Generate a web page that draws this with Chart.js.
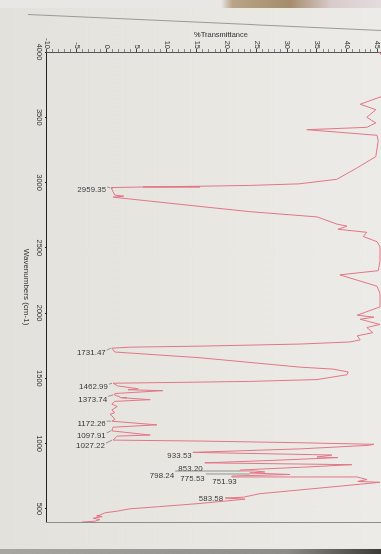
<!DOCTYPE html>
<html>
<head>
<meta charset="utf-8">
<script src="https://cdn.jsdelivr.net/npm/chart.js@4/dist/chart.umd.min.js"></script>
<style>
  html, body { margin:0; padding:0; width:381px; height:554px; overflow:hidden;
    background: linear-gradient(to right, #e3e1db 0%, #e8e7e2 55%, #ecebe7 100%); }
  #wrap { position:absolute; left:0; top:0; width:554px; height:400px;
    transform-origin:0 0; transform: translate(400px,0) rotate(90deg); }
  #c { display:block; width:554px; height:400px; }
  #topstrip { position:absolute; left:0; top:0; width:381px; height:8px;
    background: linear-gradient(to right, #e8e7e3 0%, #e8e7e3 58%, #b9a487 61%, #a48c6c 76%, #d9cbcb 87%, #e4dcdf 100%); }
  #fold { position:absolute; left:28px; top:14px; width:354px; height:1px; background:#9a9a98;
    transform-origin:0 0; transform: rotate(2.6deg); }
  #bottomstrip { position:absolute; left:0; top:549px; width:381px; height:5px;
    background: linear-gradient(to right, #a8a6a1 0%, #8e8c88 75%, #3c3a36 100%); }
</style>
</head>
<body>
<div id="topstrip"></div>
<div id="fold"></div>
<div id="wrap"><canvas id="c" width="554" height="400"></canvas></div>
<div id="bottomstrip"></div>
<script>
// ---- data (wavenumber in cm-1, %Transmittance) ----
const wavenumbers = [4000,3950,3850,3750,3680,3658,3600,3558,3500,3457,3423,3405,3362,3319,3199,3113,3025,2990,2978,2972,2966,2962,2959.35,2904,2896,2888,2833,2777,2737,2682,2666,2642,2619,2587,2547,2508,2400,2325,2293,2269,2206,2151,2048,1984,1969,1953,1913,1890,1850,1826,1795,1779,1763,1747,1739,1731.47,1702,1658,1586,1571,1549,1528,1491,1477,1470,1462.99,1442,1427,1420,1413,1406,1384,1373.74,1357,1354,1350,1337,1324,1304,1284,1258,1238,1225,1205,1185,1172.26,1144,1126,1097.91,1066,1058,1027.22,1020,1007,995,987,960,933.53,916,913,898,893,871,853.2,839,819,798.24,791,783,775.53,764,751.93,745,725,711,704,658,617,590,583.58,575,542,518,501,483,471,453,447,441,429,418,406,400];
const transmittance = [45.3,46.2,46.8,46.9,46.3,45.7,42.2,44.8,43.3,44.8,43.3,33.3,45.0,45.2,44.8,41.7,38.3,32.0,23.8,15.5,6.0,1.0,0.7,1.3,2.8,1.0,12.2,23.8,35.0,38.3,40.0,38.5,43.3,42.7,45.0,45.5,45.5,45.2,38.8,40.5,45.0,45.5,45.5,41.7,44.5,42.2,45.5,43.3,44.3,41.7,42.2,40.5,32.2,15.5,3.8,0.8,1.3,15.5,32.2,37.7,40.2,40.0,35.0,23.8,13.0,1.0,1.8,4.2,5.2,3.5,9.3,1.3,1.2,2.2,3.3,2.5,7.2,1.3,0.8,1.7,0.8,1.3,0.5,1.0,1.3,0.8,8.3,1.0,0.8,7.2,1.7,1.0,15.5,32.2,44.5,43.5,32.2,14.3,34.3,37.5,35.0,38.5,27.2,16.3,40.8,32.2,22.2,24.7,26.3,23.8,30.5,20.8,41.7,43.3,41.8,45.5,35.0,25.5,22.7,19.7,23.0,15.5,8.8,3.8,1.7,-0.3,-1.2,-1.7,-0.8,-2.3,-1.2,-2.0,-4.2];
const wavenumberTicks = [4000,3500,3000,2500,2000,1500,1000,500];
const transmittanceTicks = [-10,-5,0,5,10,15,20,25,30,35,40,45];
const peakLabels = ['2959.35','1731.47','1462.99','1373.74','1172.26','1097.91','1027.22','933.53','853.20','798.24','775.53','751.93','583.58'];

// ---- label placement (style, in the photographed frame: dx right, dy down) ----
const labelPlacement = [
  [-5,2,'s'],[-6,5,'s'],[-5,4,'s'],[-7,4.5,'s'],[-6,3,'s'],[-6,5,'s'],[-8,6,'s'],
  [-1,3.5,''],[-2,6,''],[-66,6,'l'],[-45,6,'l'],[5,6,''],[-2,0.5,'']
];

const FONT = '"Liberation Sans", Arial, sans-serif';

const peakLabelPlugin = {
  id: 'peakLabels',
  afterDatasetsDraw(chart) {
    const { ctx, scales: { x, y } } = chart;
    ctx.save();
    ctx.font = '8px ' + FONT;
    ctx.fillStyle = '#3a3a3a';
    ctx.strokeStyle = '#7c7c7c';
    ctx.lineWidth = 0.8;
    peakLabels.forEach((lab, i) => {
      const w = parseFloat(lab);
      const idx = wavenumbers.indexOf(w);
      const px = x.getPixelForValue(w);
      const py = y.getPixelForValue(transmittance[idx]);
      const [fdx, fdy, leader] = labelPlacement[i];
      const cv = (dx, dy) => [px + dy, py - dx];
      const [tx, ty] = cv(fdx, fdy);
      ctx.save();
      ctx.translate(tx, ty);
      ctx.rotate(-Math.PI / 2);
      ctx.textAlign = 'right';
      ctx.textBaseline = 'middle';
      ctx.fillText(lab, 0, 0);
      ctx.restore();
      let a = null, b = null;
      if (leader === 's') { a = cv(fdx + 1, fdy - 3); b = cv(-1, 0); }
      if (leader === 'l') { a = cv(fdx + 1, fdy - 5); b = cv(0, fdy - 5); }
      if (a) {
        ctx.beginPath();
        ctx.moveTo(a[0], a[1]);
        ctx.lineTo(b[0], b[1]);
        ctx.stroke();
      }
    });
    ctx.restore();
  }
};

new Chart(document.getElementById('c'), {
  type: 'line',
  data: {
    datasets: [{
      data: wavenumbers.map((w, i) => ({ x: w, y: transmittance[i] })),
      borderColor: 'rgb(226,118,134)',
      borderWidth: 1,
      pointRadius: 0,
      tension: 0,
      fill: false
    }]
  },
  options: {
    responsive: false,
    animation: false,
    devicePixelRatio: 1,
    layout: { padding: { top: 5, right: 32, bottom: 0, left: 0 } },
    plugins: { legend: { display: false }, tooltip: { enabled: false } },
    scales: {
      x: {
        type: 'linear', position: 'bottom', reverse: true, min: 400, max: 4000,
        afterBuildTicks: s => { s.ticks = wavenumberTicks.map(v => ({ value: v })); },
        afterFit: s => { s.height = 47; },
        ticks: { autoSkip: false, minRotation: 0, maxRotation: 0, padding: 1, color: '#333',
                 font: { family: FONT, size: 7.5 }, callback: v => String(v) },
        grid: { display: true, drawOnChartArea: false, drawTicks: true, tickLength: 2, color: '#222' },
        border: { display: true, color: '#222', width: 1 },
        title: { display: true, text: 'Wavenumbers (cm-1)', color: '#333',
                 font: { family: FONT, size: 8 }, padding: { top: 0, bottom: 21 } }
      },
      y: {
        type: 'linear', position: 'left', min: -10, max: 48,
        afterBuildTicks: s => {
          const t = [];
          for (let v = -10; v <= 48; v++) t.push({ value: v });
          s.ticks = t;
        },
        afterFit: s => { s.width = 52; },
        ticks: { autoSkip: false, padding: 0, color: '#333', font: { family: FONT, size: 7.5 },
                 callback: v => transmittanceTicks.includes(v) ? String(v) : '' },
        grid: { display: true, drawOnChartArea: false, drawTicks: true, tickLength: 3,
                tickColor: c => (c.tick && transmittanceTicks.includes(c.tick.value)) ? '#444' : '#8a8a8a' },
        border: { display: true, color: '#555', width: 1 },
        title: { display: true, text: '%Transmittance', color: '#333',
                 font: { family: FONT, size: 7.5 }, padding: { top: 30.5, bottom: 0 } }
      },
      y2: {
        type: 'linear', position: 'right', display: true,
        afterFit: s => { s.width = 0; },
        ticks: { display: false },
        grid: { display: true, drawOnChartArea: false, drawTicks: false },
        border: { display: true, color: '#8e8e8e', width: 1 }
      }
    }
  },
  plugins: [peakLabelPlugin]
});
</script>
</body>
</html>
